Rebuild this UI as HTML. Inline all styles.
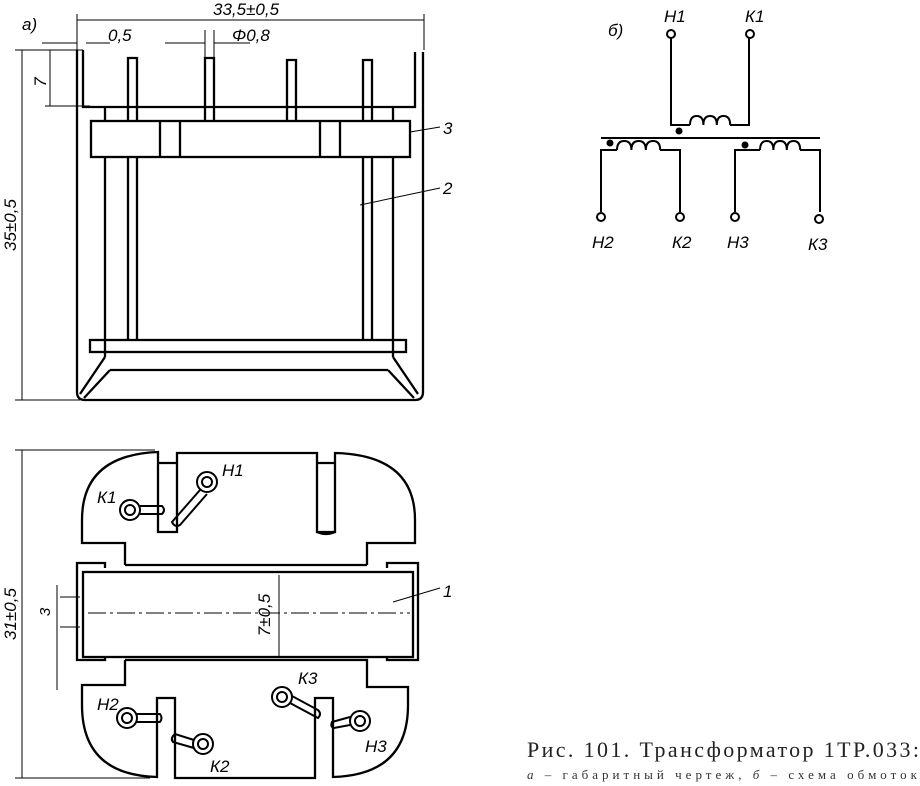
<!DOCTYPE html>
<html><head><meta charset="utf-8"><style>
html,body{margin:0;padding:0;background:#fff}
svg{display:block}
.t{font-family:"Liberation Sans",sans-serif;font-style:italic;font-size:17px;fill:#000}
</style></head><body>
<svg width="920" height="786" viewBox="0 0 920 786" xmlns="http://www.w3.org/2000/svg">
<g fill="none" stroke="#000" stroke-width="2.3">
<path d="M77,50 V392 Q77,400 85,400 H415 Q423,400 423,392 V52"/>
<path d="M83,50 V107 H415 V52"/>
<path d="M128,120 V58 H137 V120 M205,120 V58 H214 V120 M287,120 V60 H296 V120 M363,120 V60 H372 V120"/>
<path d="M128,157 V340 M137,157 V340 M363,157 V340 M372,157 V340"/>
<rect x="91" y="121" width="319" height="36"/>
<path d="M160,121 V157 M180,121 V157 M320,121 V157 M340,121 V157"/>
<path d="M105,107 V121 M105,157 V357 M393,107 V121 M393,157 V357"/>
<rect x="90" y="340" width="316" height="12"/>
<path d="M105,357 L80,394 M393,357 L418,394 M110,370 H388 M110,370 L84,398 M388,370 L414,398"/>
</g>
<g stroke="#000" stroke-width="1" fill="none">
<path d="M77,20 H424 M77,14 V50 M424,14 V50"/>
<path d="M42,43 H77 M86,43 H110 M165,43 H205 M214,43 H250 M205,30 V58 M214,30 V58"/>
<path d="M22,50 V400 M15,50 H83 M15,400 H80 M50,50 V106 M45,106 H90"/>
<path d="M410,132 L440,127 M360,205 L440,188"/>
</g>
<text class="t" x="22" y="30">а)</text>
<text class="t" x="213" y="15">33,5±0,5</text>
<text class="t" x="108" y="41">0,5</text>
<text class="t" x="232" y="41">Φ0,8</text>
<text class="t" x="46" y="82" transform="rotate(-90 46 82)" text-anchor="middle">7</text>
<text class="t" x="16" y="225" transform="rotate(-90 16 225)" text-anchor="middle">35±0,5</text>
<text class="t" x="443" y="134">3</text>
<text class="t" x="443" y="194">2</text>
<g fill="none" stroke="#000" stroke-width="2">
<path d="M601,138 H820"/>
<path d="M671,38 V125 H690 M730,125 H749 V38"/>
<path d="M690,125 q0,-9 6.7,-9 q6.7,0 6.7,9 q0,-9 6.7,-9 q6.7,0 6.7,9 q0,-9 6.7,-9 q6.7,0 6.7,9"/>
<path d="M601,212 V150 H617 M660,150 H680 V212"/>
<path d="M617,150 q0,-9 7.2,-9 q7.2,0 7.2,9 q0,-9 7.2,-9 q7.2,0 7.2,9 q0,-9 7.2,-9 q7.2,0 7.2,9"/>
<path d="M735,212 V150 H760 M800,150 H820 V212"/>
<path d="M760,150 q0,-9 6.7,-9 q6.7,0 6.7,9 q0,-9 6.7,-9 q6.7,0 6.7,9 q0,-9 6.7,-9 q6.7,0 6.7,9"/>
<circle cx="671" cy="34" r="4"/><circle cx="750" cy="34" r="4"/>
<circle cx="601" cy="217" r="4"/><circle cx="680" cy="217" r="4"/>
<circle cx="735" cy="217" r="4"/><circle cx="819" cy="219" r="4"/>
</g>
<g fill="#000"><circle cx="679" cy="131" r="3.5"/><circle cx="610" cy="143" r="3.5"/><circle cx="745" cy="145" r="3.5"/></g>
<text class="t" x="608" y="36">б)</text>
<text class="t" x="664" y="22">Н1</text><text class="t" x="745" y="22">К1</text>
<text class="t" x="592" y="248">Н2</text><text class="t" x="672" y="248">К2</text>
<text class="t" x="727" y="248">Н3</text><text class="t" x="808" y="250">К3</text>
<g fill="none" stroke="#000" stroke-width="2.3">
<path d="M125,565 V543 H82 V520 Q82,455 158,452 V532 H177 V453 H317 V532 H335 V453 Q415,455 415,520 V543 H367 V565"/>
<path d="M125,565 H367 M158,463 H177 M317,463 H335"/>
<path d="M125,660 V685 H82 V705 Q82,775 157,777 V698 H175 V778 H315 V698 H333 V777 Q408,775 408,705 V687 H367 V660 H125"/>
<rect x="83" y="572" width="330" height="85"/>
<path d="M105,568 V563 H77 V660 H105 V656 M387,568 V563 H418 V660 H387 V656"/>
<path d="M317,532 Q326,536 335,532"/>
</g>
<g fill="none" stroke="#000" stroke-width="1">
<path d="M22,450 V778 M15,450 H155 M15,778 H150 M60,597 H80 M60,627 H80 M57,585 V690 M279,575 V657 M393,602 L440,588"/>
<path d="M88,613 H410" stroke-dasharray="18,4,3,4"/>
</g>
<g fill="none" stroke="#000" stroke-width="2">
<circle cx="130" cy="510" r="10"/><circle cx="130" cy="510" r="5"/>
<circle cx="207" cy="482" r="10"/><circle cx="207" cy="482" r="5"/>
<circle cx="127" cy="718" r="10"/><circle cx="127" cy="718" r="5"/>
<circle cx="203" cy="744" r="10"/><circle cx="203" cy="744" r="5"/>
<circle cx="282" cy="697" r="10"/><circle cx="282" cy="697" r="5"/>
<circle cx="360" cy="721" r="10"/><circle cx="360" cy="721" r="5"/>
<path d="M140,506 H162 Q166,510 162,514 H140"/>
<path d="M200,490 L172,522 Q175,528 180,525 L207,494"/>
<path d="M137,714 H160 Q163,718 160,722 H137"/>
<path d="M194,740 L175,734 Q170,738 173,742 L194,748"/>
<path d="M290,703 L318,718 Q322,714 318,710 L292,696"/>
<path d="M350,717 L332,722 Q330,727 334,728 L350,725"/>
</g>
<text class="t" x="97" y="503">К1</text><text class="t" x="222" y="476">Н1</text>
<text class="t" x="97" y="710">Н2</text><text class="t" x="210" y="772">К2</text>
<text class="t" x="298" y="684">К3</text><text class="t" x="365" y="752">Н3</text>
<text class="t" x="443" y="597">1</text>
<text class="t" x="50" y="612" transform="rotate(-90 50 612)" text-anchor="middle" style="font-size:15px">3</text>
<text class="t" x="16" y="614" transform="rotate(-90 16 614)" text-anchor="middle">31±0,5</text>
<text class="t" x="270" y="615" transform="rotate(-90 270 615)" text-anchor="middle">7±0,5</text>
<text x="527" y="757" textLength="392" lengthAdjust="spacing" style="font-family:'Liberation Serif',serif;font-size:22px;fill:#222">Рис. 101. Трансформатор 1ТР.033:</text>
<text x="527" y="779" textLength="390" lengthAdjust="spacing" style="font-family:'Liberation Serif',serif;font-size:13px;fill:#333"><tspan font-style="italic">а</tspan> – габаритный чертеж, <tspan font-style="italic">б</tspan> – схема обмоток</text>
</svg>
</body></html>
